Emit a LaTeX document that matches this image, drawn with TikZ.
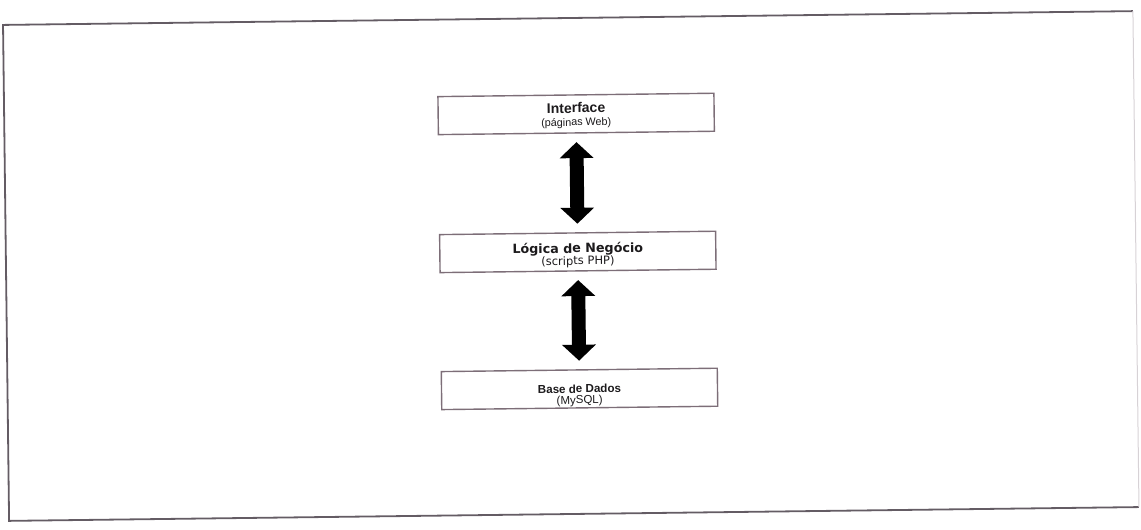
\documentclass[tikz,border=0pt]{standalone}
\usepackage{fontspec}
\setmainfont{Liberation Sans}
\newfontfamily\dejavu{DejaVu Sans}
\usetikzlibrary{arrows.meta}
\definecolor{framecol}{RGB}{100,92,100}
\definecolor{framefaint}{RGB}{215,210,214}
\definecolor{boxcol}{RGB}{125,110,120}
\definecolor{inkcol}{RGB}{28,26,28}
\tikzset{
  layer/.style={draw=boxcol, line width=1.4pt, minimum width=276pt,
    minimum height=38pt, inner sep=0pt},
  ttl/.style={anchor=base, inner sep=0pt, text=inkcol},
  sub/.style={anchor=base, inner sep=0pt, text=inkcol},
  link/.style={line width=14pt, draw=black,
    {Triangle[width=33pt,length=16pt]}-{Triangle[width=33pt,length=16pt]},
    shorten <=8.5pt, shorten >=8.5pt},
  frame/.style={draw=framecol, line width=1.8pt},
}
\begin{document}
\begin{tikzpicture}[x=1pt,y=1pt]
\useasboundingbox (0,0) rectangle (1141,-530);
\begin{scope}[rotate around={0.7:(571,-266)}, transform shape]
  % outer frame
  \draw[frame] (1136,-18) -- (6,-18) -- (6,-514) -- (1136,-514);
  \draw[draw=framefaint, line width=1pt] (1136,-18) -- (1136,-514);

  % the three layers
  \node[layer] (iface) at (578,-114) {};
  \node[layer] (logic) at (578,-252) {};
  \node[layer] (data)  at (578,-389) {};

  \node[ttl, font=\bfseries\fontsize{14}{16}\selectfont] (ifaceT) at (578,-113) {Interface};
  \node[sub, font=\fontsize{10.8}{12}\selectfont] (ifaceS) at (578,-126) {(páginas Web)};

  \node[ttl, font=\dejavu\bfseries\fontsize{12.7}{14}\selectfont] (logicT) at (578,-253) {Lógica de Negócio};
  \node[sub, font=\dejavu\fontsize{11.5}{13}\selectfont] (logicS) at (578,-265) {(scripts PHP)};

  \node[ttl, font=\bfseries\fontsize{11.6}{13}\selectfont] (dataT) at (578,-393) {Base de Dados};
  \node[sub, font=\fontsize{11.5}{13}\selectfont] (dataS) at (578,-404) {(MySQL)};

  % two-way links between layers
  \draw[link] (iface.south) -- (logic.north);
  \draw[link] (logic.south) -- (data.north);
\end{scope}
\end{tikzpicture}
\end{document}
